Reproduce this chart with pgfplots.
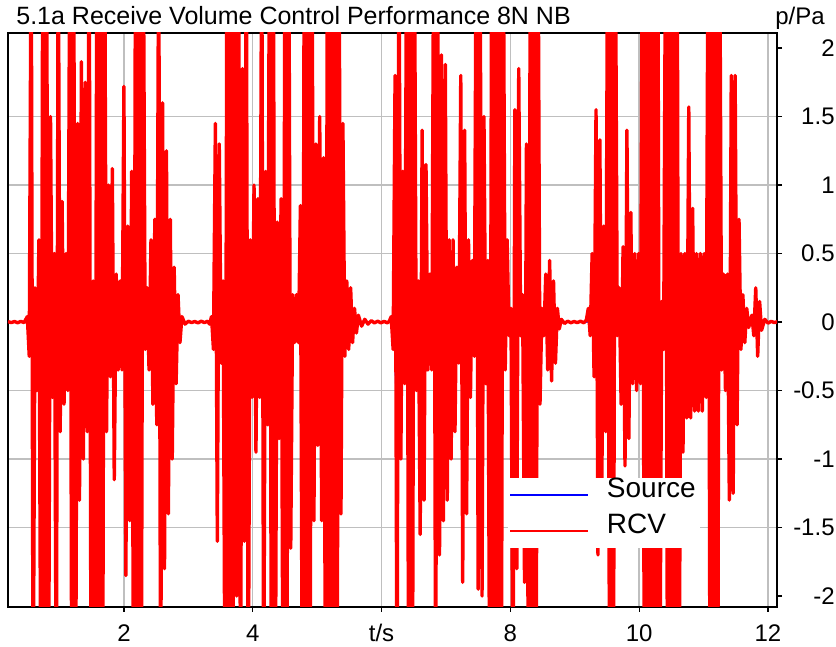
\documentclass[border=0pt]{standalone}
\usepackage{fontspec}
\setmainfont{Liberation Sans}
\usepackage{pgfplots}
\pgfplotsset{compat=1.18}

\begin{document}
\begin{tikzpicture}
\begin{axis}[
    scale only axis,
    width=384.5pt, height=287pt,
    xmin=0.2, xmax=12.14,
    ymin=-2.08, ymax=2.11,
    axis line style={black, line width=0.8pt},
    xtick={2,4,6,8,10,12},
    xticklabels={2,4,t/s,8,10,12},
    ytick={-1.5,-1,-0.5,0,0.5,1,1.5},
    extra y ticks={-2,2},
    extra y tick style={grid=none},
    xtick pos=bottom, ytick pos=right,
    yticklabel pos=right,
    tick align=outside,
    major tick length=2.5pt,
    tick style={black, line width=0.6pt},
    grid=major,
    major grid style={gray!50, line width=0.75pt},
    /pgf/number format/assume math mode=true,
    ticklabel style={font=\fontsize{12}{14}\selectfont, inner sep=0pt},
    xticklabel style={anchor=base, yshift=-15pt},
    yticklabel style={anchor=east, xshift=26.5pt},
    no markers,
    legend style={at={(axis description cs:0.9,0.1028)}, anchor=south east,
        draw=none, fill=white, inner xsep=0.5pt, inner ysep=0pt,
        font=\fontsize{14}{16}\selectfont,
        nodes={text height=8.5pt, text depth=5.5pt, inner sep=1.5pt},
        row sep=1pt},
    legend cell align=left,
    legend image code/.code={\draw[#1, line width=1pt] (0pt,0pt) -- (39pt,0pt); \path (46pt,0pt);},
]
\coordinate (ll) at (rel axis cs:0,0);
\coordinate (ur) at (rel axis cs:1,1);

% Source (lies almost entirely under the RCV trace)
\addplot[blue, line width=0.6pt] coordinates {
(0.2,0)(0.74,0)(0.755,0.45)(0.765,-0.45)(0.78,0)(3.60,0)(3.615,0.35)(3.625,-0.4)
(3.64,0)(6.19,0)(6.205,0.3)(6.215,-0.45)(6.23,0)(6.43,0)(6.445,0.35)(6.455,-0.35)
(6.47,0)(10.10,0)(10.115,0.4)(10.125,-0.4)(10.14,0)(12.14,0)
};
\addlegendentry{Source}

% RCV
\addplot[red, line width=1.7pt, line join=round] coordinates {
(0.20,0.003)(0.25,-0.004)(0.30,0.004)(0.35,-0.005)(0.40,0.005)(0.45,-0.004)
(0.50,0.04)(0.53,-0.25)(0.56,3)(0.59,-3)(0.62,0.25)(0.65,-0.5)(0.68,0.6)(0.71,-3)
(0.74,3)(0.77,-3)(0.80,3)(0.83,-3)(0.86,1.5)(0.89,-0.55)(0.92,0.5)(0.95,-3)
(0.98,3)(1.01,-0.8)(1.04,0.88)(1.07,-0.6)(1.10,0.5)(1.13,-0.5)(1.16,3)(1.19,-3)
(1.22,3)(1.25,-3)(1.28,1.45)(1.31,-1.3)(1.34,1.9)(1.37,-1.0)(1.40,1.75)(1.43,-0.8)
(1.46,3)(1.49,-3)(1.52,0.3)(1.55,-3)(1.58,3)(1.61,-3)(1.64,3)(1.67,-3)
(1.70,3)(1.73,-0.8)(1.76,1.0)(1.79,-0.4)(1.82,1.12)(1.85,-1.15)(1.88,0.35)(1.91,-0.35)
(1.94,0.3)(1.97,-0.35)(2.00,1.72)(2.03,-1.85)(2.06,0.7)(2.09,-1.45)(2.12,1.1)(2.15,-3)
(2.18,3)(2.21,-3)(2.24,3)(2.27,-3)(2.30,3)(2.33,-0.2)(2.36,0.25)(2.39,-0.35)
(2.42,0.6)(2.45,-0.6)(2.48,0.75)(2.51,-0.75)(2.54,3)(2.57,-3)(2.60,1.6)(2.63,-1.8)
(2.66,1.25)(2.69,-1.4)(2.72,0.75)(2.75,-1.0)(2.78,0.4)(2.81,-0.45)(2.84,0.2)(2.87,-0.15)
(2.90,0.04)(2.95,-0.015)(3.00,0.006)(3.05,-0.004)(3.10,0.004)(3.15,-0.006)(3.20,0.006)
(3.25,-0.004)(3.30,0.006)(3.33,-0.015)
(3.36,0.04)(3.39,-0.2)(3.42,1.45)(3.45,-1.6)(3.48,1.3)(3.51,-0.3)(3.54,0.3)(3.57,-3)
(3.60,3)(3.63,-3)(3.66,3)(3.69,-3)(3.72,3)(3.75,-2.0)(3.78,3)(3.81,-3)
(3.84,1.85)(3.87,-1.6)(3.90,3)(3.93,-3)(3.96,0.6)(3.99,-0.55)(4.02,1.0)(4.05,-0.95)
(4.08,0.9)(4.11,-0.55)(4.14,3)(4.17,-3)(4.20,1.1)(4.23,-0.75)(4.26,3)(4.29,-3)
(4.32,3)(4.35,-3)(4.38,0.73)(4.41,-0.85)(4.44,0.9)(4.47,-3)(4.50,3)(4.53,-3)
(4.56,3)(4.59,-1.65)(4.62,0.2)(4.65,-0.15)(4.68,0.2)(4.71,-0.15)(4.74,0.85)(4.77,-3)
(4.80,3)(4.83,-3)(4.86,3)(4.89,-3)(4.92,3)(4.95,-1.45)(4.98,1.3)(5.01,-0.9)
(5.04,1.5)(5.07,-1.45)(5.10,1.2)(5.13,-3)(5.16,3)(5.19,-3)(5.22,3)(5.25,-3)
(5.28,3)(5.31,-3)(5.34,3)(5.37,-1.4)(5.40,1.45)(5.43,-0.25)(5.46,0.3)(5.49,-0.2)
(5.52,0.25)(5.55,-0.15)(5.58,0.1)(5.61,-0.08)(5.64,0.05)
(5.69,-0.03)(5.74,0.02)(5.79,-0.015)(5.84,0.01)(5.89,-0.006)(5.94,0.006)(5.99,-0.006)
(6.04,0.005)(6.09,-0.006)(6.12,0.006)
(6.15,0.04)(6.18,-0.2)(6.21,1.8)(6.24,-3)(6.27,3)(6.30,-1.0)(6.33,1.1)(6.36,-0.45)
(6.39,3)(6.42,-3)(6.45,3)(6.48,-3)(6.51,3)(6.54,-0.5)(6.57,0.3)(6.60,-1.55)
(6.63,1.4)(6.66,-1.3)(6.69,1.15)(6.72,-0.35)(6.75,0.35)(6.78,-0.35)(6.81,3)(6.84,-3)
(6.87,3)(6.90,-1.7)(6.93,1.95)(6.96,-1.45)(6.99,1.88)(7.02,-1.3)(7.05,0.6)(7.08,-1.0)
(7.11,0.6)(7.14,-0.8)(7.17,0.4)(7.20,-0.3)(7.23,1.8)(7.26,-1.9)(7.29,1.4)(7.32,-1.4)
(7.35,0.6)(7.38,-0.55)(7.41,0.45)(7.44,-0.25)(7.47,3)(7.50,-1.95)(7.53,3)(7.56,-2.0)
(7.59,1.5)(7.62,-0.45)(7.65,0.45)(7.68,-3)(7.71,3)(7.74,-3)(7.77,3)(7.80,-3)
(7.83,3)(7.86,-3)(7.89,3)(7.92,-0.35)(7.95,0.6)(7.98,-0.1)(8.01,0.1)(8.04,-3)
(8.07,1.55)(8.10,-1.8)(8.13,1.85)(8.16,-0.1)(8.19,0.2)(8.22,-1.9)(8.25,1.3)(8.28,-3)
(8.31,3)(8.34,-3)(8.37,3)(8.40,-3)(8.43,3)(8.46,-0.6)(8.49,0.1)(8.52,-0.1)
(8.55,0.35)(8.58,-0.35)(8.61,0.45)(8.64,-0.43)(8.67,0.3)(8.70,-0.3)(8.73,0.1)(8.76,-0.05)
(8.79,0.02)(8.84,-0.01)(8.89,0.006)(8.94,-0.005)(8.99,0.004)(9.04,-0.004)(9.09,0.006)
(9.14,-0.006)(9.18,0.015)
(9.21,0.1)(9.24,-0.1)(9.27,0.5)(9.30,-0.4)(9.33,1.55)(9.36,-1.7)(9.39,1.33)(9.42,-1.2)
(9.45,0.7)(9.48,-0.8)(9.51,3)(9.54,-3)(9.57,3)(9.60,-3)(9.63,3)(9.66,-0.1)
(9.69,0.25)(9.72,-0.6)(9.75,0.55)(9.78,-1.05)(9.81,1.4)(9.84,-0.85)(9.87,0.8)(9.90,-0.45)
(9.93,0.5)(9.96,-0.5)(9.99,0.5)(10.02,-0.45)(10.05,3)(10.08,-3)(10.11,3)(10.14,-3)
(10.17,3)(10.20,-3)(10.23,3)(10.26,-3)(10.29,3)(10.32,-3)(10.35,0.15)(10.38,-0.2)
(10.41,3)(10.44,-3)(10.47,3)(10.50,-3)(10.53,3)(10.56,-3)(10.59,3)(10.62,-3)
(10.65,0.5)(10.68,-0.95)(10.71,0.5)(10.74,-0.7)(10.77,1.57)(10.80,-0.7)(10.83,0.83)(10.86,-0.65)
(10.89,0.5)(10.92,-0.65)(10.95,0.5)(10.98,-0.65)(11.01,0.5)(11.04,-0.55)(11.07,3)(11.10,-3)
(11.13,3)(11.16,-3)(11.19,3)(11.22,-3)(11.25,3)(11.28,-0.35)(11.31,0.35)(11.34,-0.5)
(11.37,0.35)(11.40,-1.3)(11.43,1.8)(11.46,-1.25)(11.49,1.8)(11.52,-0.75)(11.55,0.75)(11.58,-0.2)
(11.61,0.2)(11.64,-0.15)(11.67,0.1)(11.70,-0.04)
(11.75,0.05)(11.78,-0.1)(11.81,0.25)(11.84,-0.25)(11.87,0.15)(11.90,-0.06)(11.95,0.02)
(12.00,-0.008)(12.05,0.005)(12.10,-0.004)(12.15,0.003)
};
\addlegendentry{RCV}
\end{axis}
\node[anchor=base west, inner sep=0pt, font=\fontsize{12.5}{14}\selectfont]
    at ([shift={(4pt,4pt)}]ll |- ur) {5.1a Receive Volume Control Performance 8N NB};
\node[anchor=base west, inner sep=0pt, font=\fontsize{12}{14}\selectfont]
    at ([shift={(-1pt,4pt)}]ur) {p/Pa};
\pgfresetboundingbox
\path ([shift={(-4pt,-20pt)}]ll) rectangle ([shift={(29.5pt,16.5pt)}]ur);
\end{tikzpicture}
\end{document}
